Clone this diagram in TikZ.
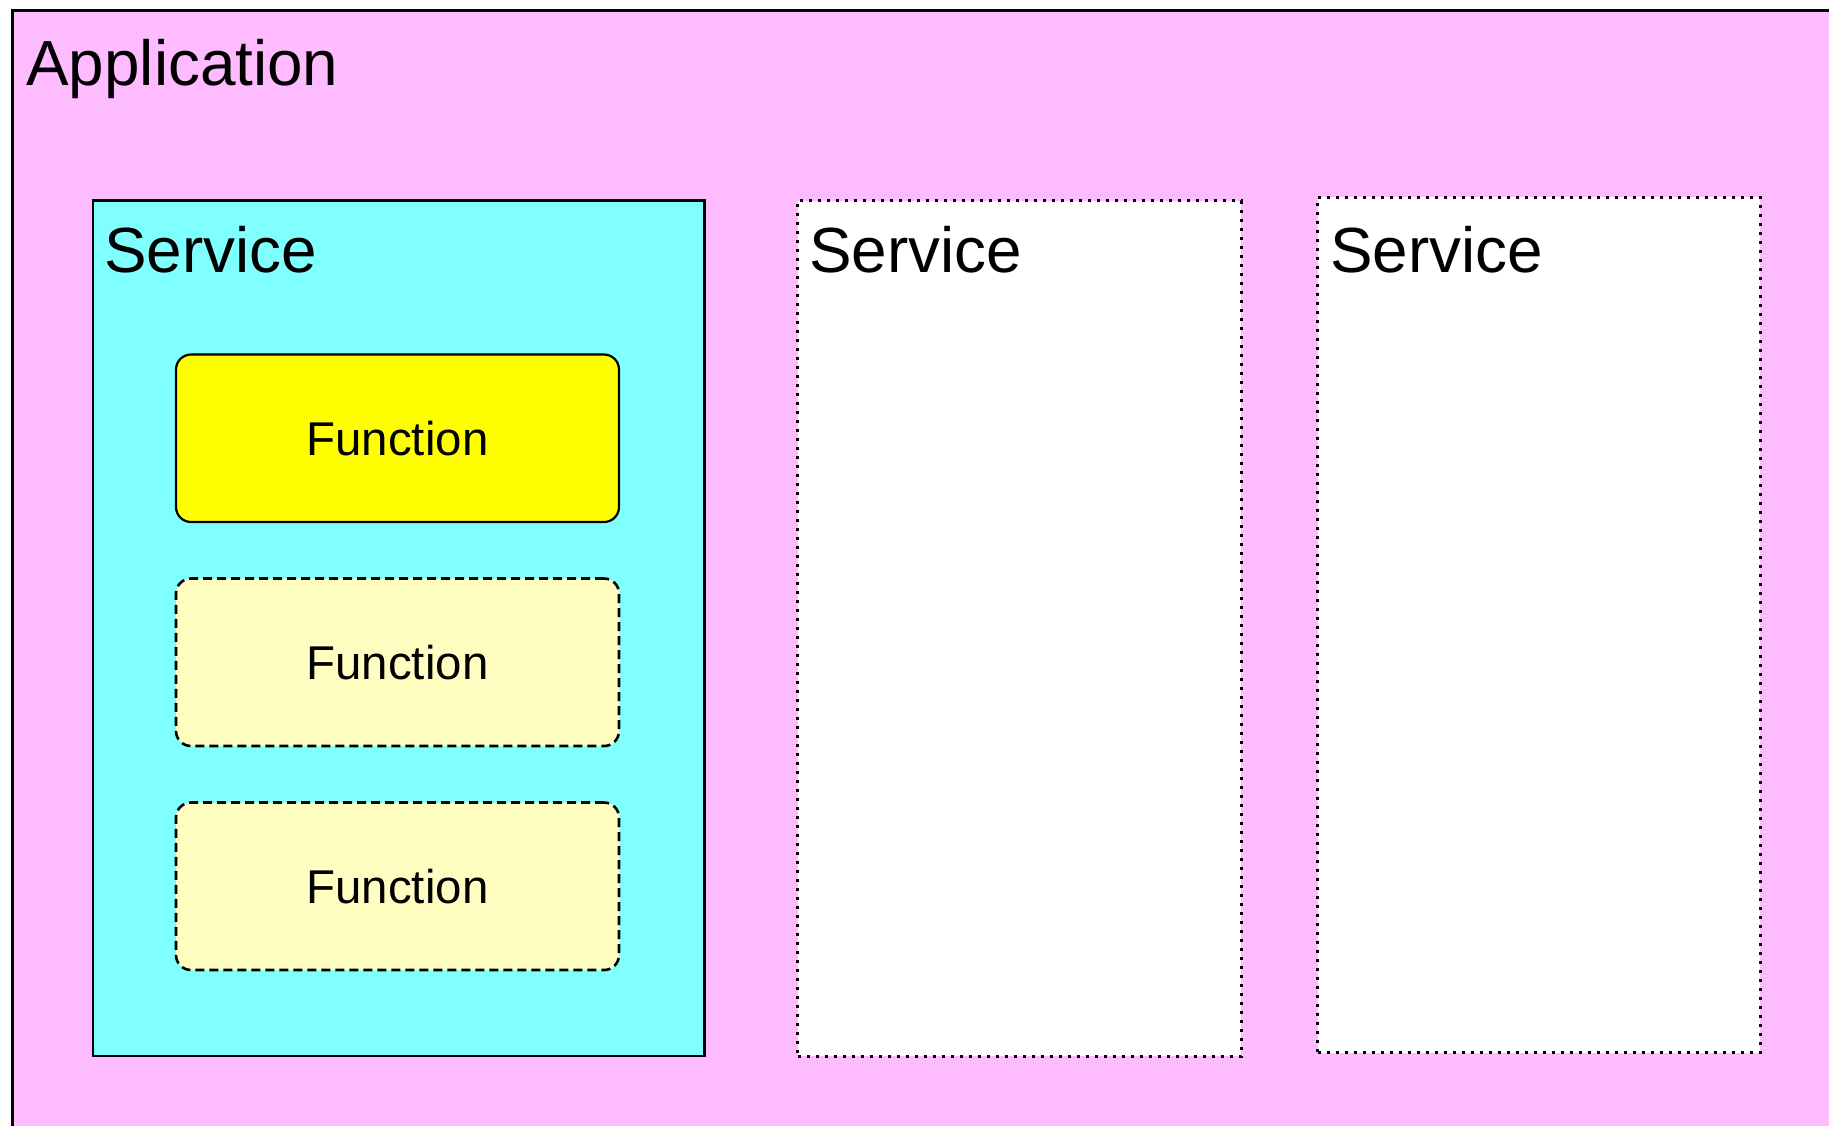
\documentclass[tikz,border=0pt]{standalone}
\usepackage{fontspec}
\setmainfont{Liberation Sans}
\definecolor{apppink}{HTML}{FFBBFF}
\definecolor{svccyan}{HTML}{80FFFF}
\definecolor{fnyellow}{HTML}{FFFF00}
\definecolor{fnpale}{HTML}{FFFDC0}
\tikzset{
  box/.style={anchor=north west, inner sep=0pt, outer sep=0pt, line width=1.1pt, draw=black},
  appbox/.style={box, fill=apppink, line width=1.3pt},
  svcsolid/.style={box, fill=svccyan},
  svcdotted/.style={box, fill=white, line width=1.5pt, dash pattern=on 1.5pt off 3pt},
  fnbox/.style={box, anchor=center, rounded corners=7.5pt, minimum width=221.5pt, minimum height=83.75pt, font=\fontsize{23.7pt}{28pt}\selectfont},
  fnmain/.style={fnbox, fill=fnyellow},
  fnopt/.style={fnbox, fill=fnpale, line width=1.3pt, dash pattern=on 4.5pt off 2.5pt},
  bigtext/.style={anchor=base west, inner sep=0pt, font=\fontsize{31.9pt}{36pt}\selectfont}
}
\begin{document}
\begin{tikzpicture}[x=0.5pt,y=-0.5pt]
\useasboundingbox (0,0) rectangle (1829,1125);
\fill[white] (0,0) rectangle (1829,1125);
\begin{scope}
\clip (0,0) rectangle (1829,1125);
\node[appbox, minimum width=913.75pt, minimum height=564.75pt] (app) at (12.5,10.5) {};
\end{scope}
\node[bigtext] (apptext) at (26,85) {Application};

\node[svcsolid, minimum width=305.75pt, minimum height=427.75pt] (svc1) at (93,200.5) {};
\node[svcdotted, minimum width=221.75pt, minimum height=427.75pt] (svc2) at (797.5,200.5) {};
\node[svcdotted, minimum width=221.25pt, minimum height=427.75pt] (svc3) at (1317.5,197) {};

\node[bigtext] (svc1text) at (104,272) {Service};
\node[bigtext] (svc2text) at (809,272) {Service};
\node[bigtext] (svc3text) at (1330,272) {Service};

\node[fnmain] (fn1) at (397.5,438.25) {Function};
\node[fnopt] (fn2) at (397.5,662.25) {Function};
\node[fnopt] (fn3) at (397.5,886.25) {Function};
\end{tikzpicture}
\end{document}
